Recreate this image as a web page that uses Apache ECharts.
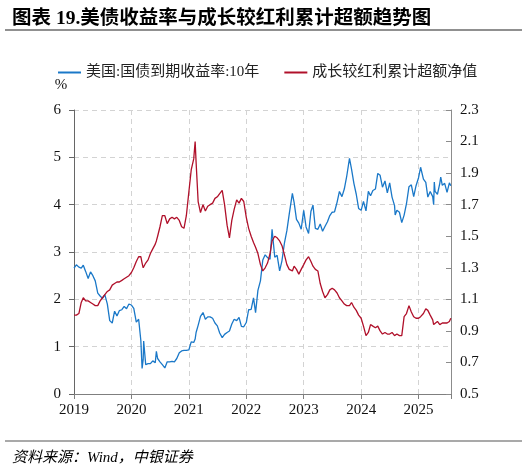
<!DOCTYPE html>
<html><head><meta charset="utf-8">
<script src="https://cdn.jsdelivr.net/npm/echarts@6/dist/echarts.min.js"></script>
<style>html,body{margin:0;padding:0;background:#fff}#c{width:528px;height:467px}</style>
</head><body><div id="c"></div><script>
// Observation dates (YYYY-MM-DD)
const dates = [
 '2019-01-01','2019-01-16','2019-02-01','2019-02-16','2019-03-01','2019-03-16','2019-04-01','2019-04-16','2019-05-01','2019-05-16','2019-06-01','2019-06-16','2019-07-01','2019-07-16','2019-08-01','2019-08-16','2019-09-01','2019-09-16','2019-10-01','2019-10-16','2019-11-01','2019-11-16','2019-12-01','2019-12-16',
 '2020-01-01','2020-01-16','2020-02-01','2020-02-16','2020-03-01','2020-03-09','2020-03-16','2020-03-19','2020-04-01','2020-04-16','2020-05-01','2020-05-16','2020-06-01','2020-06-08','2020-06-16','2020-07-01','2020-07-16','2020-08-01','2020-08-16','2020-09-01','2020-09-16','2020-10-01','2020-10-16','2020-11-01','2020-11-16','2020-12-01','2020-12-16',
 '2021-01-01','2021-01-16','2021-02-01','2021-02-10','2021-02-16','2021-03-01','2021-03-16','2021-04-01','2021-04-16','2021-05-01','2021-05-16','2021-06-01','2021-06-16','2021-07-01','2021-07-16','2021-08-01','2021-08-16','2021-09-01','2021-09-16','2021-10-01','2021-10-16','2021-11-01','2021-11-16','2021-12-01','2021-12-16',
 '2022-01-01','2022-01-16','2022-02-01','2022-02-16','2022-03-01','2022-03-16','2022-04-01','2022-04-16','2022-05-01','2022-05-16','2022-06-01','2022-06-14','2022-07-01','2022-07-16','2022-08-01','2022-08-16','2022-09-01','2022-09-16','2022-10-01','2022-10-21','2022-11-01','2022-11-16','2022-12-01','2022-12-16',
 '2023-01-01','2023-01-16','2023-02-01','2023-02-16','2023-03-01','2023-03-16','2023-04-01','2023-04-16','2023-05-01','2023-05-16','2023-06-01','2023-06-16','2023-07-01','2023-07-16','2023-08-01','2023-08-16','2023-09-01','2023-09-16','2023-10-01','2023-10-19','2023-11-01','2023-11-16','2023-12-01','2023-12-16',
 '2024-01-01','2024-01-16','2024-02-01','2024-02-16','2024-03-01','2024-03-16','2024-04-01','2024-04-16','2024-05-01','2024-05-16','2024-06-01','2024-06-16','2024-07-01','2024-07-16','2024-08-01','2024-08-05','2024-08-16','2024-09-01','2024-09-16','2024-10-01','2024-10-16','2024-11-01','2024-11-16','2024-12-01','2024-12-16',
 '2025-01-01','2025-01-14','2025-02-01','2025-02-16','2025-03-01','2025-03-16','2025-04-01','2025-04-07','2025-04-11','2025-04-16','2025-05-01','2025-05-16','2025-05-22','2025-06-01','2025-06-16','2025-07-01','2025-07-16','2025-07-25'
];
// 美国:国债到期收益率:10年 (%)
const us10y = [
 2.66,2.73,2.68,2.66,2.72,2.59,2.44,2.58,2.50,2.39,2.13,2.07,2.02,2.10,1.90,1.55,1.50,1.75,1.65,1.76,1.78,1.85,1.80,1.90,
 1.88,1.81,1.52,1.58,1.13,0.54,0.73,1.12,0.62,0.64,0.64,0.70,0.66,0.90,0.75,0.68,0.62,0.55,0.68,0.68,0.69,0.68,0.75,0.87,0.91,0.92,0.92,
 0.93,1.10,1.09,1.16,1.30,1.45,1.64,1.72,1.58,1.63,1.63,1.60,1.50,1.44,1.29,1.19,1.26,1.30,1.33,1.48,1.58,1.55,1.62,1.43,1.42,
 1.51,1.78,1.79,2.03,1.72,2.19,2.39,2.83,2.94,2.88,2.85,3.48,2.89,2.93,2.60,2.82,3.20,3.45,3.80,4.24,4.05,3.69,3.61,3.48,
 3.88,3.53,3.39,3.86,3.99,3.50,3.48,3.59,3.44,3.54,3.64,3.77,3.84,3.85,4.05,4.28,4.17,4.33,4.59,4.98,4.75,4.45,4.22,3.92,
 3.88,4.07,3.87,4.28,4.19,4.30,4.33,4.66,4.62,4.37,4.50,4.25,4.46,4.16,3.98,3.78,3.88,3.84,3.62,3.78,4.02,4.38,4.42,4.17,4.40,
 4.57,4.79,4.54,4.47,4.16,4.28,4.17,4.00,4.48,4.28,4.22,4.45,4.58,4.41,4.45,4.26,4.46,4.40
];
// 成长较红利累计超额净值
const growthVsDividend = [
 1.00,1.00,1.01,1.08,1.11,1.09,1.09,1.08,1.07,1.06,1.06,1.09,1.11,1.13,1.15,1.16,1.19,1.20,1.21,1.21,1.22,1.23,1.24,1.25,
 1.27,1.30,1.34,1.37,1.37,1.33,1.30,1.31,1.33,1.35,1.39,1.42,1.45,1.47,1.50,1.56,1.63,1.63,1.58,1.61,1.62,1.61,1.62,1.60,1.56,1.55,1.63,
 1.78,1.92,1.99,2.10,1.97,1.72,1.65,1.70,1.66,1.69,1.70,1.71,1.74,1.75,1.77,1.79,1.70,1.57,1.49,1.60,1.67,1.73,1.71,1.74,1.72,
 1.62,1.55,1.50,1.46,1.43,1.39,1.32,1.28,1.30,1.33,1.39,1.47,1.50,1.49,1.47,1.44,1.38,1.32,1.29,1.28,1.31,1.29,1.26,1.29,
 1.32,1.35,1.37,1.34,1.31,1.29,1.28,1.20,1.15,1.11,1.13,1.16,1.17,1.16,1.14,1.11,1.09,1.07,1.06,1.06,1.08,1.05,1.03,1.00,
 0.98,0.93,0.87,0.89,0.94,0.93,0.92,0.93,0.90,0.88,0.89,0.88,0.88,0.89,0.87,0.87,0.88,0.87,0.87,0.99,1.01,1.06,1.02,0.99,0.98,
 0.98,0.99,1.01,1.04,1.03,1.00,0.97,0.94,0.95,0.95,0.96,0.94,0.94,0.95,0.95,0.95,0.96,0.98
];
const seriesNames = ['美国:国债到期收益率:10年', '成长较红利累计超额净值'];
const xRange = [2019, 2025.565];
const leftRange = [0, 6];
const rightRange = [0.5, 2.3];

function toYear(s) {
  const p = s.split('-').map(Number);
  const y = p[0];
  const t0 = Date.UTC(y, 0, 1), t1 = Date.UTC(y + 1, 0, 1);
  return y + (Date.UTC(y, p[1] - 1, p[2]) - t0) / (t1 - t0);
}
const serif = '"Liberation Serif", "Noto Sans CJK SC", serif';
const chart = echarts.init(document.getElementById('c'), null, {renderer: 'canvas'});
chart.setOption({
  animation: false,
  backgroundColor: '#fff',
  title: [
    {text: '图表 19.美债收益率与成长较红利累计超额趋势图', left: 7, top: 4,
     textStyle: {fontSize: 19.5, fontWeight: 'bold', color: '#000', fontFamily: serif}},
    {text: '资料来源：Wind，中银证券', left: 7, top: 446,
     textStyle: {fontSize: 15, fontWeight: 'normal', fontStyle: 'italic', color: '#000', fontFamily: serif}}
  ],
  graphic: [
    {type: 'line', shape: {x1: 5, y1: 30, x2: 522, y2: 30}, style: {stroke: '#6b6b6b', lineWidth: 1.5}},
    {type: 'line', shape: {x1: 5, y1: 441, x2: 522, y2: 441}, style: {stroke: '#555', lineWidth: 1.2}}
  ],
  legend: {
    left: 53, top: 60, itemWidth: 23, itemHeight: 2, itemGap: 25, icon: 'rect',
    textStyle: {fontSize: 15, color: '#222', fontFamily: serif},
    data: seriesNames
  },
  grid: {left: 74, right: 77, top: 110, bottom: 73},
  xAxis: {
    type: 'value', min: xRange[0], max: xRange[1], interval: 1,
    axisLine: {lineStyle: {color: '#7f7f7f'}},
    axisTick: {length: 5, lineStyle: {color: '#7f7f7f'}},
    axisLabel: {fontSize: 15, color: '#111', fontFamily: serif, margin: 9,
      formatter: v => Math.abs(v - Math.round(v)) < 1e-6 ? String(Math.round(v)) : ''},
    splitLine: {show: true, lineStyle: {type: [5, 4], color: '#d3d3d3'}}
  },
  yAxis: [
    {type: 'value', min: leftRange[0], max: leftRange[1], interval: 1,
     name: '%', nameLocation: 'end', nameGap: 17,
     nameTextStyle: {fontSize: 15, color: '#111', fontFamily: serif, padding: [0, 26, 0, 0]},
     axisLine: {show: true, lineStyle: {color: '#666'}},
     axisTick: {show: true, length: 5, lineStyle: {color: '#666'}},
     axisLabel: {fontSize: 15, color: '#111', fontFamily: serif, margin: 13},
     splitLine: {show: true, lineStyle: {type: [5, 4], color: '#d3d3d3'}}},
    {type: 'value', min: rightRange[0], max: rightRange[1], interval: 0.2, position: 'right',
     axisLine: {show: true, lineStyle: {color: '#8c8c8c'}},
     axisTick: {show: true, inside: true, length: 5, lineStyle: {color: '#8c8c8c'}},
     axisLabel: {fontSize: 15, color: '#111', fontFamily: serif, margin: 9,
       formatter: v => v.toFixed(1)},
     splitLine: {show: false}}
  ],
  series: [
    {name: seriesNames[0], type: 'line', yAxisIndex: 0, symbol: 'none',
     lineStyle: {color: '#1a78c8', width: 1.3}, itemStyle: {color: '#1a78c8'},
     data: dates.map((d, i) => [toYear(d), us10y[i]])},
    {name: seriesNames[1], type: 'line', yAxisIndex: 1, symbol: 'none',
     lineStyle: {color: '#b0102a', width: 1.3}, itemStyle: {color: '#b0102a'},
     data: dates.map((d, i) => [toYear(d), growthVsDividend[i]])}
  ]
});
</script></body></html>
